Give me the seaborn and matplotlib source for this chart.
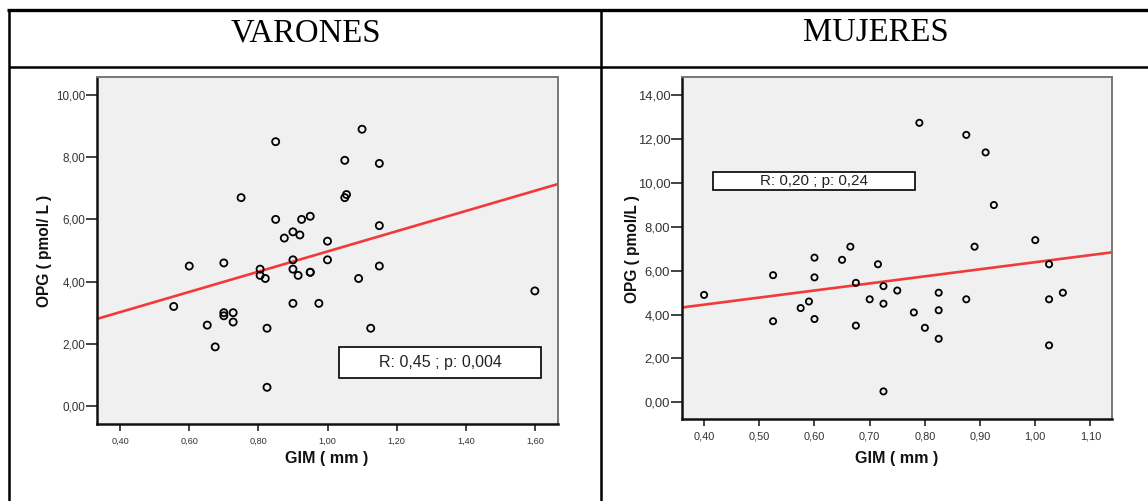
import numpy as np
import pandas as pd
import matplotlib
matplotlib.use("Agg")
import matplotlib.pyplot as plt
import seaborn as sns
from matplotlib.lines import Line2D
from matplotlib.patches import Rectangle
from matplotlib.ticker import FixedLocator, FuncFormatter

# ---------------- data ----------------
titles = ["VARONES", "MUJERES"]
x_label = "GIM ( mm )"
y_labels = ["OPG ( pmol/ L )", "OPG ( pmol/L )"]
stat_texts = ["R: 0,45 ; p: 0,004", "R: 0,20 ; p: 0,24"]

men_gim = [0.555, 0.60, 0.652, 0.675, 0.70, 0.70, 0.70, 0.727, 0.727, 0.75,
           0.805, 0.805, 0.82, 0.825, 0.825, 0.85, 0.85, 0.875, 0.90, 0.90,
           0.90, 0.90, 0.92, 0.915, 0.925, 0.95, 0.95, 0.95, 0.975, 1.00,
           1.00, 1.05, 1.055, 1.05, 1.09, 1.10, 1.125, 1.15, 1.15, 1.15, 1.60]
men_opg = [3.2, 4.5, 2.6, 1.9, 4.6, 3.0, 2.9, 3.0, 2.7, 6.7,
           4.4, 4.2, 4.1, 2.5, 0.6, 8.5, 6.0, 5.4, 5.6, 4.7,
           4.4, 3.3, 5.5, 4.2, 6.0, 6.1, 4.3, 4.3, 3.3, 5.3,
           4.7, 7.9, 6.8, 6.7, 4.1, 8.9, 2.5, 7.8, 5.8, 4.5, 3.7]

women_gim = [0.40, 0.525, 0.525, 0.575, 0.59, 0.60, 0.60, 0.60, 0.65, 0.665,
             0.675, 0.675, 0.70, 0.715, 0.725, 0.725, 0.725, 0.75, 0.78, 0.79,
             0.80, 0.825, 0.825, 0.825, 0.875, 0.875, 0.89, 0.91, 0.925, 1.00,
             1.025, 1.025, 1.025, 1.05]
women_opg = [4.9, 5.8, 3.7, 4.3, 4.6, 6.6, 5.7, 3.8, 6.5, 7.1,
             5.45, 3.5, 4.7, 6.3, 5.3, 4.5, 0.5, 5.1, 4.1, 12.75,
             3.4, 5.0, 4.2, 2.9, 12.2, 4.7, 7.1, 11.4, 9.0, 7.4,
             6.3, 4.7, 2.6, 5.0]

men_xticks = [0.40, 0.60, 0.80, 1.00, 1.20, 1.40, 1.60]
men_yticks = [0, 2, 4, 6, 8, 10]
women_xticks = [0.40, 0.50, 0.60, 0.70, 0.80, 0.90, 1.00, 1.10]
women_yticks = [0, 2, 4, 6, 8, 10, 12, 14]

# ---------------- style ----------------
sns.set_theme(style="white")
plt.rcParams["font.family"] = ["Liberation Sans", "DejaVu Sans"]

W, H = 1148, 501
fig = plt.figure(figsize=(W / 100, H / 100), dpi=100)


def fx(px):
    return px / W


def fy(py):
    return 1 - py / H


comma = FuncFormatter(lambda v, p: f"{v:.2f}".replace(".", ","))


def panel(rect, xs, ys, xlim, ylim, xticks, yticks, xtick_fs, ytick_fs, msize):
    ax = fig.add_axes(rect)
    ax.set_facecolor("#f0f0f0")
    df = pd.DataFrame({"x": xs, "y": ys})
    ax.set_xlim(*xlim)
    ax.set_ylim(*ylim)
    sns.regplot(data=df, x="x", y="y", ax=ax, scatter=False, ci=None,
                truncate=False, line_kws=dict(color="#f23a3a", lw=1.9, zorder=2))
    sns.scatterplot(data=df, x="x", y="y", ax=ax, marker="o", s=msize,
                    facecolor="none", edgecolor="black", linewidth=1.3, zorder=3)
    ax.set_xlim(*xlim)
    ax.set_ylim(*ylim)
    ax.xaxis.set_major_locator(FixedLocator(xticks))
    ax.yaxis.set_major_locator(FixedLocator(yticks))
    ax.xaxis.set_major_formatter(comma)
    ax.yaxis.set_major_formatter(comma)
    ax.tick_params(axis="x", length=5, width=1.2, color="#222222",
                   labelsize=xtick_fs, labelcolor="#333333", pad=4, bottom=True)
    ax.tick_params(axis="y", length=8, width=1.2, color="#222222",
                   labelsize=ytick_fs, labelcolor="#333333", pad=0.5, left=True)
    for side in ["left", "bottom"]:
        ax.spines[side].set_color("#111111")
        ax.spines[side].set_linewidth(1.8)
        ax.spines[side].set_visible(True)
    for side in ["top", "right"]:
        ax.spines[side].set_color("#777777")
        ax.spines[side].set_linewidth(1.4)
        ax.spines[side].set_visible(True)
    ax.set_xlabel("")
    ax.set_ylabel("")
    ax.grid(False)
    return ax


ax1 = panel([fx(97), fy(424), fx(558) - fx(97), fy(77) - fy(424)],
            men_gim, men_opg, (0.333, 1.667), (-0.58, 10.58),
            men_xticks, men_yticks, 6.6, 8.4, 26)
ax2 = panel([fx(682), fy(419), fx(1112) - fx(682), fy(77) - fy(419)],
            women_gim, women_opg, (0.36, 1.139), (-0.76, 14.84),
            women_xticks, women_yticks, 7.9, 9.4, 20)

# axis labels (figure coordinates)
fig.text(fx(44), fy(251), y_labels[0], rotation=90, ha="center", va="center",
         fontsize=11.2, fontweight="bold", color="#111111")
fig.text(fx(632), fy(249), y_labels[1], rotation=90, ha="center", va="center",
         fontsize=11.2, fontweight="bold", color="#111111")
fig.text(fx(327), fy(458), x_label, ha="center", va="center",
         fontsize=11.6, fontweight="bold", color="#111111")
fig.text(fx(897), fy(458), x_label, ha="center", va="center",
         fontsize=11.6, fontweight="bold", color="#111111")

# stat boxes
for (x0, y0, x1, y1), txt, fs in zip([(339, 347, 541, 378), (713, 172, 915, 190)],
                                     stat_texts, [11.5, 11.0]):
    fig.add_artist(Rectangle((fx(x0), fy(y1)), fx(x1) - fx(x0), fy(y0) - fy(y1),
                             transform=fig.transFigure, facecolor="white",
                             edgecolor="black", linewidth=1.2, zorder=5))
    fig.text(fx((x0 + x1) / 2), fy((y0 + y1) / 2), txt, ha="center", va="center",
             fontsize=fs, color="#222222", zorder=6)

# titles (table header)
fig.text(fx(306), fy(33), titles[0], ha="center", va="center", fontsize=23.6,
         family=["Liberation Serif", "DejaVu Serif"], color="black")
fig.text(fx(876), fy(33), titles[1], ha="center", va="center", fontsize=23.6,
         family=["Liberation Serif", "DejaVu Serif"], color="black")

# table rules
lines = [
    ((fx(7), fx(W)), (fy(10), fy(10)), 2.4),
    ((fx(8.5), fx(8.5)), (fy(9), fy(H)), 1.8),
    ((fx(8.5), fx(W)), (fy(67), fy(67)), 1.8),
    ((fx(601), fx(601)), (fy(10), fy(H)), 1.8),
]
for xs, ys, lw in lines:
    fig.add_artist(Line2D(xs, ys, transform=fig.transFigure, color="black",
                          linewidth=lw, solid_capstyle="butt"))

fig.savefig("out.png", dpi=100, facecolor="white")
